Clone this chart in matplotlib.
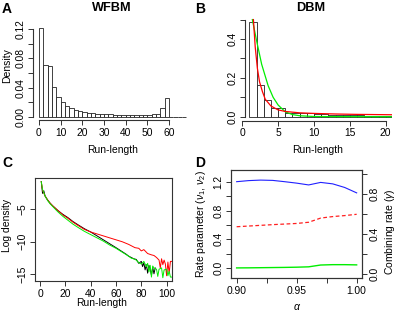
import matplotlib
matplotlib.use("Agg")
import matplotlib.pyplot as plt

plt.rcParams['font.family'] = ['Liberation Sans', 'DejaVu Sans']
plt.rcParams['mathtext.fontset'] = 'custom'
plt.rcParams['mathtext.rm'] = 'Liberation Sans'
plt.rcParams['mathtext.it'] = 'Liberation Sans:italic'

# ---- panel A: WFBM run-length histogram (bin width 2, left edges)
wf_left = list(range(0, 68, 2))
wf_density = [0.121, 0.071, 0.070, 0.0405, 0.027, 0.020, 0.0155, 0.012, 0.0095,
              0.008, 0.0068, 0.006, 0.0052, 0.0046, 0.0042, 0.0038, 0.0035, 0.0033,
              0.0031, 0.003, 0.003, 0.003, 0.003, 0.003, 0.003, 0.0032, 0.0035,
              0.0045, 0.012, 0.0255, 0.0004, 0.0004, 0.0003, 0.0003]

# ---- panel B: DBM run-length histogram (bin width 1, left edges) and fitted curves
db_left = list(range(1, 21))
db_density = [0.487, 0.163, 0.084, 0.047, 0.043, 0.02, 0.017, 0.02, 0.017, 0.014,
              0.012, 0.011, 0.01, 0.009, 0.008, 0.007, 0.006, 0.006, 0.005, 0.005]
fit_red_x = [1.55, 1.8, 2.1, 2.4, 2.8, 3.2, 4.0, 5.0, 6.0, 8.0, 10, 13, 16, 21]
fit_red_y = [0.50, 0.36, 0.25, 0.18, 0.13, 0.09, 0.055, 0.035, 0.027, 0.02,
             0.017, 0.014, 0.012, 0.01]
fit_green_x = [1.4, 2.0, 2.7, 3.6, 4.3, 5.0, 6.0, 7.0, 8.0, 10, 14, 21]
fit_green_y = [0.50, 0.39, 0.27, 0.16, 0.10, 0.06, 0.025, 0.011, 0.005, 0.001,
               0.0003, 0.0]

# ---- panel C: log density of run-length
ld_black_x = [1, 2, 3, 4, 6, 8, 10, 14, 18, 22, 26, 30, 35, 40, 45, 50, 55, 60,
              64, 68, 70, 72, 74, 76, 78, 80, 81, 82, 83, 84, 85, 86, 87, 88, 89,
              90, 91]
ld_black_y = [-0.8, -2.6, -2.2, -3.0, -3.6, -4.1, -4.5, -5.2, -5.8, -6.3, -6.9,
              -7.4, -8.0, -8.5, -9.1, -9.7, -10.3, -10.9, -11.4, -11.9, -12.2,
              -12.4, -12.6, -12.7, -13.3, -13.0, -13.8, -13.2, -14.3, -13.5,
              -14.8, -13.6, -14.2, -15.1, -13.9, -14.9, -14.0]
ld_red_x = [1, 2, 4, 6, 8, 10, 14, 18, 22, 26, 30, 35, 40, 45, 50, 55, 60, 65,
            70, 75, 78, 80, 82, 85, 88, 90, 92, 94, 95, 96, 97, 98, 99, 100,
            101, 102, 103, 104]
ld_red_y = [-0.8, -2.1, -3.0, -3.6, -4.1, -4.5, -5.2, -5.9, -6.4, -7.0, -7.5,
            -8.1, -8.5, -8.8, -9.1, -9.4, -9.7, -10.0, -10.4, -10.9, -11.0,
            -11.4, -11.2, -11.8, -12.0, -12.1, -12.4, -12.8, -14.0, -12.6,
            -13.5, -12.8, -13.4, -15.2, -13.1, -14.8, -13.0, -13.0]
ld_green_x = [1, 2, 4, 6, 8, 10, 14, 18, 22, 26, 30, 35, 40, 45, 50, 55, 60, 65,
              70, 72, 74, 76, 78, 80, 82, 84, 85, 86, 87, 88, 89, 90, 92, 93,
              94, 96, 97, 98, 100, 101, 102, 103, 104]
ld_green_y = [-0.8, -2.0, -3.0, -3.7, -4.2, -4.6, -5.4, -6.1, -6.7, -7.3, -7.8,
              -8.4, -8.9, -9.4, -9.9, -10.5, -11.0, -11.6, -12.2, -12.5, -12.6,
              -12.8, -13.2, -13.4, -13.0, -13.8, -13.3, -14.6, -13.6, -15.4,
              -13.7, -14.0, -14.2, -15.3, -14.2, -14.0, -15.5, -14.3, -14.2,
              -15.2, -14.5, -15.4, -15.4]

# ---- panel D: rate parameters vs alpha
alpha = [0.90, 0.91, 0.92, 0.93, 0.94, 0.95, 0.96, 0.97, 0.98, 0.99, 1.00]
nu1 = [1.20, 1.215, 1.222, 1.218, 1.20, 1.18, 1.155, 1.19, 1.17, 1.12, 1.045]
nu2 = [0.005, 0.006, 0.008, 0.010, 0.012, 0.015, 0.02, 0.045, 0.05, 0.05, 0.047]
gamma = [0.473, 0.480, 0.487, 0.494, 0.500, 0.506, 0.518, 0.56, 0.575, 0.585, 0.598]

W, H = 397, 319
AX = '#333333'
fig = plt.figure(figsize=(W / 100, H / 100), dpi=100)


def px_axes(l, t, r, b):
    return fig.add_axes([l / W, 1 - b / H, (r - l) / W, (b - t) / H])


def ftext(x, y, s, **kw):
    fig.text(x / W, 1 - y / H, s, ha='center', va='center', **kw)


def style(ax, box=False):
    for s in ax.spines.values():
        s.set_color(AX)
        s.set_linewidth(0.8)
    if not box:
        ax.spines['top'].set_visible(False)
        ax.spines['right'].set_visible(False)
    ax.tick_params(which='both', direction='out', length=3.4, width=0.7,
                   color=AX, labelsize=7.4, pad=2.2)
    for lab in ax.get_yticklabels():
        lab.set_rotation(90)
        lab.set_va('center')


# A
ax = px_axes(33.1, 25.1, 192.2, 120.5)
ax.bar(wf_left, wf_density, width=2, align='edge', facecolor='white',
       edgecolor='#222222', linewidth=0.6)
ax.set_xlim(-2.72, 70.72)
ax.set_ylim(-0.0048, 0.1253)
ax.set_xticks([0, 10, 20, 30, 40, 50, 60])
ax.set_yticks([0, 0.04, 0.08, 0.12], ['0.00', '0.04', '0.08', '0.12'])
ax.set_yticks([0.02, 0.06, 0.10], minor=True)
ax.spines['left'].set_bounds(0, 0.12)
ax.spines['bottom'].set_bounds(0, 60)
style(ax)

# B
ax = px_axes(242.3, 15.7, 392, 120.6)
ax.bar(db_left, db_density, width=1, align='edge', facecolor='white',
       edgecolor='#222222', linewidth=0.6)
ax.plot(fit_green_x, fit_green_y, color='#00ee00', lw=0.9)
ax.plot(fit_red_x, fit_red_y, color='#ff0000', lw=0.9)
ax.set_xlim(0, 20.88)
ax.set_ylim(-0.02, 0.52)
ax.set_xticks([0, 5, 10, 15, 20])
ax.set_yticks([0, 0.2, 0.4], ['0.0', '0.2', '0.4'])
ax.set_yticks([0.1, 0.3, 0.5], minor=True)
ax.spines['left'].set_position(('data', 0.37))
ax.spines['left'].set_bounds(0, 0.5)
ax.spines['bottom'].set_bounds(0, 20)
style(ax)

# C
ax = px_axes(35, 177.7, 171.7, 281)
ax.plot(ld_black_x, ld_black_y, color='black', lw=0.7)
ax.plot(ld_red_x, ld_red_y, color='#ff0000', lw=0.7)
ax.plot(ld_green_x, ld_green_y, color='#00ee00', lw=0.7)
ax.set_xlim(-3.95, 104.0)
ax.set_ylim(-16.0, -0.2)
ax.set_xticks([0, 20, 40, 60, 80, 100])
ax.set_yticks([-5, -10, -15])
style(ax, box=True)

# D
ax = px_axes(231, 170, 361.7, 278.3)
ax.plot(alpha, nu1, color='#2020ff', lw=0.8)
ax.plot(alpha, nu2, color='#00ee00', lw=1.0)
ax.set_xlim(0.8953, 1.0042)
ax.set_ylim(-0.139, 1.362)
ax.set_xticks([0.90, 0.95, 1.00], ['0.90', '0.95', '1.00'])
ax.set_xticks([0.925, 0.975], minor=True)
ax.set_yticks([0, 0.4, 0.8, 1.2], ['0.0', '0.4', '0.8', '1.2'])
ax.set_yticks([0.2, 0.6, 1.0], minor=True)
style(ax, box=True)
ax2 = ax.twinx()
ax2.plot(alpha, gamma, color='#ff2020', lw=0.9, dashes=(3, 2))
ax2.set_ylim(-0.045, 1.043)
ax2.set_yticks([0, 0.4, 0.8], ['0.0', '0.4', '0.8'])
ax2.set_yticks([0.2, 0.6, 1.0], minor=True)
style(ax2, box=True)

# labels and titles
lab = dict(fontsize=7.5)
ftext(112.5, 150, 'Run-length', **lab)
ftext(7, 66, 'Density', rotation=90, **lab)
ftext(112, 8, 'WFBM', fontsize=9.2, fontweight='bold')
ftext(318, 150, 'Run-length', **lab)
ftext(311, 8, 'DBM', fontsize=9.2, fontweight='bold')
ftext(102, 303, 'Run-length', **lab)
ftext(7, 225, 'Log density', rotation=90, **lab)
ftext(297, 307, r'$\alpha$', **lab)
ftext(201.5, 224, r'Rate parameter ($\nu_1$, $\nu_2$)', rotation=90, **lab)
ftext(390, 232, r'Combining rate ($\gamma$)', rotation=90, **lab)
for x, y, s in [(7, 9, 'A'), (200, 9, 'B'), (7, 163, 'C'), (200, 163, 'D')]:
    ftext(x, y, s, fontsize=10, fontweight='bold')

fig.savefig('out.png', dpi=100)
